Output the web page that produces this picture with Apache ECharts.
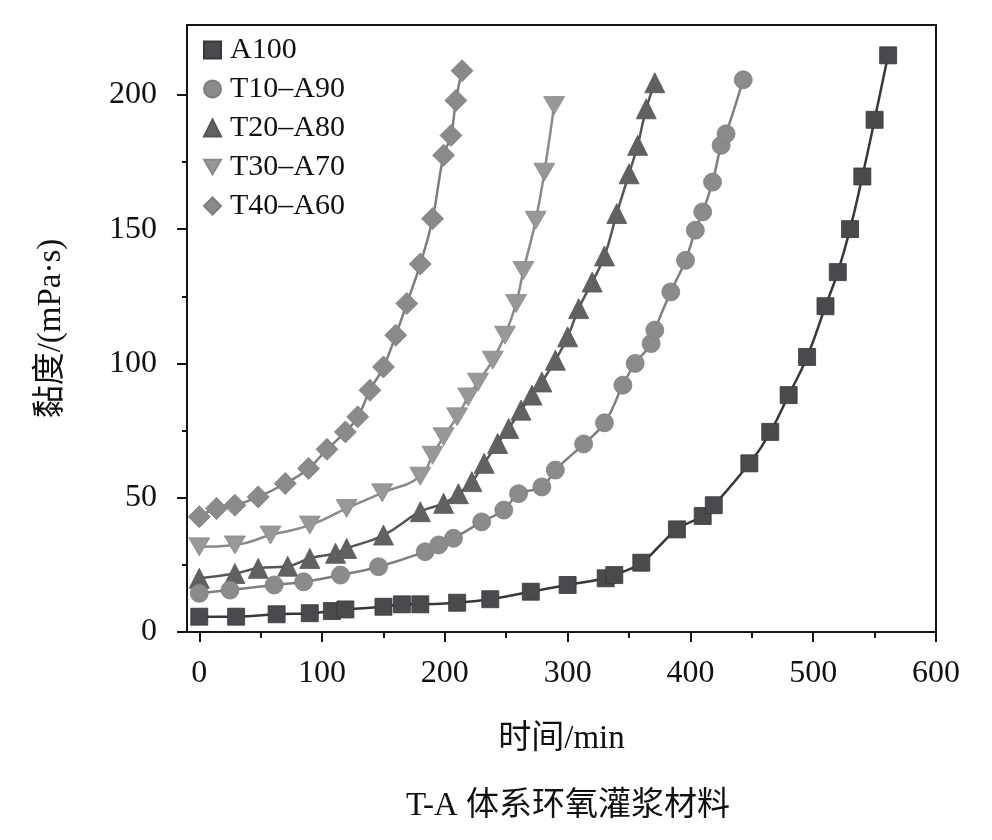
<!DOCTYPE html>
<html>
<head>
<meta charset="utf-8">
<title>T-A 体系环氧灌浆材料</title>
<script src="https://cdn.jsdelivr.net/npm/echarts@6.0.0/dist/echarts.min.js"></script>
<style>
	html, body { margin: 0; padding: 0; background: #fff; }
	#main { width: 992px; height: 840px; }
</style>
</head>
<body>
<div id="main"></div>
<script>
// 图例名称
var seriesNames = ['A100', 'T10–A90', 'T20–A80', 'T30–A70', 'T40–A60'];

// 各配比 时间(min) / 黏度(mPa·s)
var a100Time = [0, 30, 63, 90, 108, 119, 150, 165, 180, 210, 237, 270, 300, 331, 338, 360, 389, 410, 419, 448, 465, 480, 495, 510, 520, 530, 540, 550, 561];
var a100Visc = [5.7, 5.7, 6.6, 7.0, 7.8, 8.4, 9.4, 10.3, 10.3, 10.9, 12.2, 15.0, 17.5, 20.0, 21.2, 25.8, 38.2, 43.2, 47.2, 62.8, 74.5, 88.2, 102.4, 121.3, 134, 150, 169.6, 190.7, 214.7];

var t10Time = [0, 25, 61, 85, 115, 146, 184, 195, 207, 230, 248, 260, 279, 290, 313, 330, 345, 355, 368, 371, 384, 396, 404, 410, 418, 425, 429, 443];
var t10Visc = [14.4, 15.6, 17.5, 18.7, 21.2, 24.3, 29.9, 32.4, 34.9, 41.0, 45.4, 51.5, 54.0, 60.3, 70.0, 77.9, 91.9, 100, 107.4, 112.4, 126.6, 138.4, 149.6, 156.4, 167.5, 181.2, 185.5, 205.6];

var t20Time = [0, 29, 48, 72, 90, 111, 120, 150, 180, 199, 211, 222, 232, 243, 252, 262, 271, 279, 290, 300, 309, 320, 330, 340, 350, 357, 364, 371];
var t20Visc = [20, 21.8, 23.7, 24.5, 27.4, 29.3, 31.1, 36.1, 44.8, 47.9, 51.5, 56, 62.8, 70.2, 75.8, 82.6, 88.2, 93.1, 101.2, 109.9, 120.4, 130.3, 140, 155.8, 170.6, 181.2, 194.8, 204.5];

var t30Time = [0, 29, 58, 90, 120, 149, 180, 190, 199, 210, 219, 227, 239, 249, 258, 264, 274, 281, 289];
var t30Visc = [31.7, 32.4, 36.1, 39.8, 46, 51.8, 58, 65.8, 72.7, 80.1, 87.5, 93, 101.2, 110.5, 122.3, 134.6, 153.3, 171.2, 196];

var t40Time = [0, 14, 29, 48, 70, 89, 104, 119, 129, 139, 150, 160, 169, 180, 190, 199, 205, 209, 214];
var t40Visc = [42.9, 46, 47.2, 50.3, 55.3, 60.9, 68, 74.5, 80.1, 90, 98.7, 110.5, 122.3, 137, 153.9, 177.5, 184.9, 197.9, 209];

// 刻度
var xTickValues = [0, 100, 200, 300, 400, 500, 600];
var xMinorValues = [50, 150, 250, 350, 450, 550];
var yTickValues = [0, 50, 100, 150, 200];
var yMinorValues = [25, 75, 125, 175];

var serifFont = '"Liberation Serif", "Times New Roman", "Noto Sans CJK SC", serif';
var axisColor = '#15131c';

// 各系列样式
var styleList = [
	{ symbol: 'rect', size: 17, color: '#4a4a4c', line: '#3a3540' },
	{ symbol: 'circle', size: 18, color: '#8b8b8b', line: '#7e7e7e' },
	{ symbol: 'triangle', size: 20, color: '#616161', line: '#555555' },
	{ symbol: 'path://M0,0L2,0L1,1.7Z', size: [21, 18], color: '#989898', line: '#8a8a8a' },
	{ symbol: 'path://M1,0L2,1L1,2L0,1Z', size: 22, color: '#8a8a8a', line: '#7e7e7e' }
];

function pairUp(xs, ys) {
	return xs.map(function(x, i) {
		return [x, ys[i]];
	});
}

var allData = [
	pairUp(a100Time, a100Visc),
	pairUp(t10Time, t10Visc),
	pairUp(t20Time, t20Visc),
	pairUp(t30Time, t30Visc),
	pairUp(t40Time, t40Visc)
];

var chart = echarts.init(document.getElementById('main'));

var series = seriesNames.map(function(name, i) {
	var st = styleList[i];
	return {
		name: name,
		type: 'line',
		xAxisIndex: 0,
		yAxisIndex: 0,
		data: allData[i],
		smooth: 0.5,
		symbol: st.symbol,
		symbolSize: st.size,
		showAllSymbol: true,
		itemStyle: { color: st.color, borderColor: st.line, borderWidth: 0.8 },
		lineStyle: { color: st.line, width: 2.5 },
		emphasis: { disabled: true },
		animation: false,
		z: 10 - i
	};
});

var option = {
	backgroundColor: '#ffffff',
	animation: false,
	title: {
		text: 'T-A 体系环氧灌浆材料',
		left: 563,
		top: 785,
		textAlign: 'center',
		textStyle: {
			fontFamily: serifFont,
			fontSize: 33,
			fontWeight: 'normal',
			color: '#111'
		}
	},
	legend: {
		orient: 'vertical',
		left: 198,
		top: 30,
		itemWidth: 17,
		itemHeight: 17,
		itemGap: 9,
		textStyle: {
			fontFamily: serifFont,
			fontSize: 30,
			lineHeight: 30,
			padding: [0, 0, 0, 4],
			color: '#111'
		},
		data: seriesNames.map(function(name, i) {
			return { name: name, icon: styleList[i].symbol };
		})
	},
	grid: {
		left: 187,
		right: 56,
		top: 25,
		bottom: 208,
		show: true,
		borderColor: axisColor,
		borderWidth: 2,
		outerBoundsMode: 'none'
	},
	xAxis: [{
		type: 'value',
		min: -10,
		max: 600,
		position: 'bottom',
		name: '时间/min',
		nameLocation: 'middle',
		nameGap: 91,
		nameTextStyle: { fontFamily: serifFont, fontSize: 33, color: '#111' },
		splitLine: { show: false },
		axisLine: { show: true, onZero: false, lineStyle: { color: axisColor, width: 2 } },
		axisTick: { show: true, inside: false, length: 10, customValues: xTickValues, lineStyle: { color: axisColor, width: 2 } },
		axisLabel: { customValues: xTickValues, margin: 26, fontFamily: serifFont, fontSize: 32, color: '#111' }
	}, {
		// 次刻度
		type: 'value',
		min: -10,
		max: 600,
		position: 'bottom',
		splitLine: { show: false },
		axisLine: { show: false, onZero: false },
		axisTick: { show: true, length: 6, customValues: xMinorValues, lineStyle: { color: axisColor, width: 2 } },
		axisLabel: { show: false }
	}],
	yAxis: [{
		type: 'value',
		min: 0,
		max: 226,
		position: 'left',
		name: '黏度/(mPa·s)',
		nameLocation: 'middle',
		nameGap: 119,
		nameRotate: 90,
		nameTextStyle: { fontFamily: serifFont, fontSize: 33, color: '#111' },
		splitLine: { show: false },
		axisLine: { show: true, onZero: false, lineStyle: { color: axisColor, width: 2 } },
		axisTick: { show: true, inside: false, length: 10, customValues: yTickValues, lineStyle: { color: axisColor, width: 2 } },
		axisLabel: { customValues: yTickValues, margin: 30, fontFamily: serifFont, fontSize: 32, color: '#111' }
	}, {
		// 次刻度
		type: 'value',
		min: 0,
		max: 226,
		position: 'left',
		splitLine: { show: false },
		axisLine: { show: false, onZero: false },
		axisTick: { show: true, length: 5, customValues: yMinorValues, lineStyle: { color: axisColor, width: 2 } },
		axisLabel: { show: false }
	}],
	series: series
};

chart.setOption(option, true);
</script>
</body>
</html>
